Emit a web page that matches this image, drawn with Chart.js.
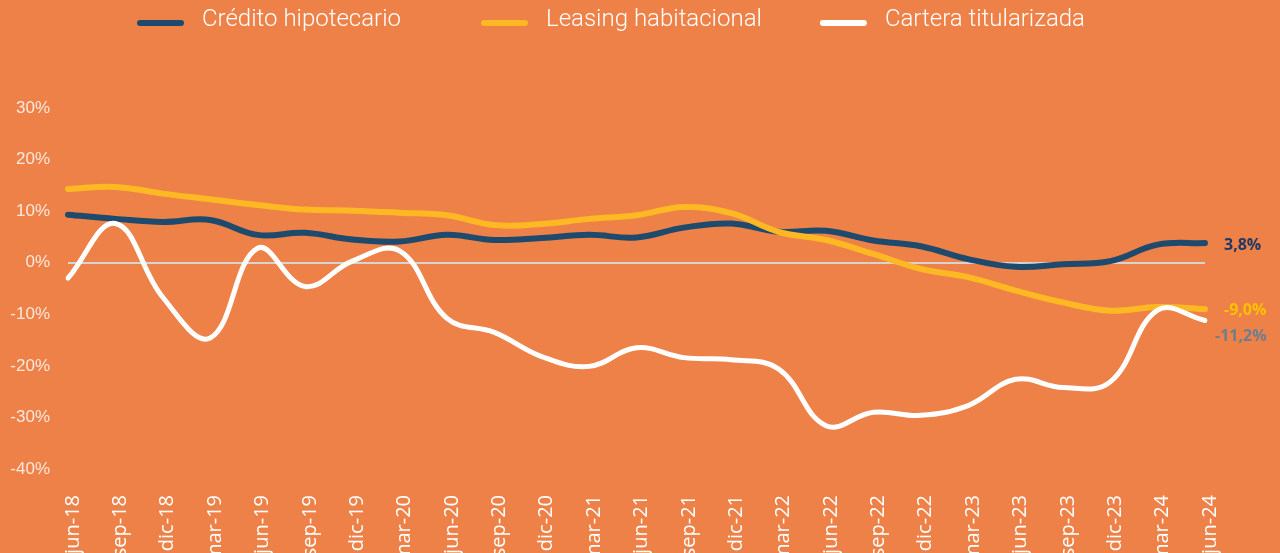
<!DOCTYPE html>
<html lang="es">
<head>
    <meta charset="UTF-8">
    <title>Cartera de vivienda</title>
    <style>
        html, body {
            margin: 0;
            padding: 0;
            background-color: #ED8147;
        }
        .chart-container {
            position: relative;
            width: 1280px;
            height: 553px;
        }
    </style>
</head>
<body>
    <div class="chart-container">
        <canvas id="housingChart"></canvas>
    </div>
    <script src="https://cdn.jsdelivr.net/npm/chart.js"></script>
    <script>
        const labels = ['jun-18', 'sep-18', 'dic-18', 'mar-19', 'jun-19', 'sep-19', 'dic-19', 'mar-20',
            'jun-20', 'sep-20', 'dic-20', 'mar-21', 'jun-21', 'sep-21', 'dic-21', 'mar-22',
            'jun-22', 'sep-22', 'dic-22', 'mar-23', 'jun-23', 'sep-23', 'dic-23', 'mar-24', 'jun-24'];

        const creditoHipotecario = [9.3, 8.5, 7.9, 8.3, 5.4, 5.8, 4.5, 4.1, 5.4, 4.4, 4.8, 5.4, 4.9,
            6.8, 7.6, 6.0, 6.2, 4.3, 3.2, 0.7, -0.8, -0.3, 0.3, 3.5, 3.8];
        const leasingHabitacional = [14.3, 14.7, 13.4, 12.3, 11.2, 10.3, 10.1, 9.7, 9.2, 7.3, 7.5, 8.5, 9.2,
            10.8, 9.6, 6.0, 4.4, 1.7, -1.2, -2.8, -5.4, -7.7, -9.3, -8.6, -9.0];
        const carteraTitularizada = [-3.0, 7.6, -6.7, -14.6, 2.8, -4.6, 0.3, 2.3, -10.8, -13.5, -18.2, -20.1, -16.5,
            -18.4, -18.8, -20.6, -31.6, -29.0, -29.6, -27.7, -22.6, -24.2, -23.1, -9.2, -11.2];

        const yTickValues = [30, 20, 10, 0, -10, -20, -30, -40];

        function pct(v) {
            return v.toFixed(1).replace('.', ',') + '%';
        }

        // legend drawn by hand so the spacing matches the original
        const topLegend = {
            id: 'topLegend',
            afterDraw(chart, args, opts) {
                const ctx = chart.ctx;
                ctx.save();
                ctx.font = '300 24px Roboto';
                ctx.textBaseline = 'middle';
                ctx.lineCap = 'round';
                let x = opts.left;
                chart.data.datasets.forEach((ds, i) => {
                    ctx.strokeStyle = ds.borderColor;
                    ctx.lineWidth = 6;
                    ctx.beginPath();
                    ctx.moveTo(x + 3, opts.markerY);
                    ctx.lineTo(x + opts.boxWidth - 3, opts.markerY);
                    ctx.stroke();
                    const tx = x + opts.boxWidth + opts.textGap;
                    ctx.fillStyle = '#ffffff';
                    ctx.fillText(ds.label, tx, opts.textY);
                    x = tx + ctx.measureText(ds.label).width + (opts.itemGaps[i] || 0);
                });
                ctx.restore();
            }
        };

        // last value written at the right end of each line
        const endLabels = {
            id: 'endLabels',
            afterDatasetsDraw(chart) {
                const ctx = chart.ctx;
                ctx.save();
                ctx.font = 'bold 16px "Open Sans"';
                ctx.textBaseline = 'middle';
                chart.data.datasets.forEach((ds, i) => {
                    const meta = chart.getDatasetMeta(i);
                    const pt = meta.data[meta.data.length - 1];
                    ctx.fillStyle = ds.endColor;
                    ctx.fillText(pct(ds.data[ds.data.length - 1]), pt.x + ds.endDx, pt.y + ds.endDy);
                });
                ctx.restore();
            }
        };

        document.addEventListener('DOMContentLoaded', () => {
            const ctx = document.getElementById('housingChart').getContext('2d');
            new Chart(ctx, {
                type: 'line',
                data: {
                    labels: labels,
                    datasets: [
                        {
                            label: 'Crédito hipotecario',
                            data: creditoHipotecario,
                            borderColor: '#1E4A6D',
                            borderWidth: 6,
                            endColor: '#1F3864',
                            endDx: 19,
                            endDy: 2,
                            order: 2
                        },
                        {
                            label: 'Leasing habitacional',
                            data: leasingHabitacional,
                            borderColor: '#FDB823',
                            borderWidth: 6,
                            endColor: '#FFC000',
                            endDx: 19,
                            endDy: 1,
                            order: 1
                        },
                        {
                            label: 'Cartera titularizada',
                            data: carteraTitularizada,
                            borderColor: '#FFFFFF',
                            borderWidth: 5,
                            endColor: '#6E7E8E',
                            endDx: 10,
                            endDy: 16,
                            order: 0
                        }
                    ]
                },
                options: {
                    responsive: true,
                    maintainAspectRatio: false,
                    animation: false,
                    layout: {
                        padding: { top: 108, right: 75, left: 0, bottom: 0 }
                    },
                    elements: {
                        line: { tension: 0.4, borderCapStyle: 'round', borderJoinStyle: 'round' },
                        point: { radius: 0 }
                    },
                    plugins: {
                        legend: { display: false },
                        tooltip: { enabled: false },
                        topLegend: {
                            left: 137,
                            boxWidth: 47,
                            textGap: 18,
                            itemGaps: [80, 58],
                            markerY: 23,
                            textY: 20
                        }
                    },
                    scales: {
                        x: {
                            grid: { display: false },
                            border: { display: false },
                            ticks: {
                                autoSkip: false,
                                maxRotation: 90,
                                minRotation: 90,
                                padding: 18,
                                labelOffset: 5,
                                color: '#ffffff',
                                font: { family: '"Open Sans"', size: 20 }
                            },
                            afterFit: scale => { scale.height = 84; }
                        },
                        y: {
                            min: -40,
                            max: 30,
                            afterBuildTicks: axis => {
                                axis.ticks = yTickValues.map(v => ({ value: v }));
                            },
                            grid: {
                                drawTicks: false,
                                color: c => c.tick && c.tick.value === 0 ? '#D6D3D0' : 'rgba(0,0,0,0)',
                                lineWidth: 2
                            },
                            border: { display: false },
                            ticks: {
                                padding: 18,
                                color: 'rgba(255,255,255,0.82)',
                                font: { family: '"Liberation Sans"', size: 17 },
                                callback: v => v + '%'
                            },
                            afterFit: scale => { scale.width = 68; }
                        }
                    }
                },
                plugins: [topLegend, endLabels]
            });
        });
    </script>
</body>
</html>
